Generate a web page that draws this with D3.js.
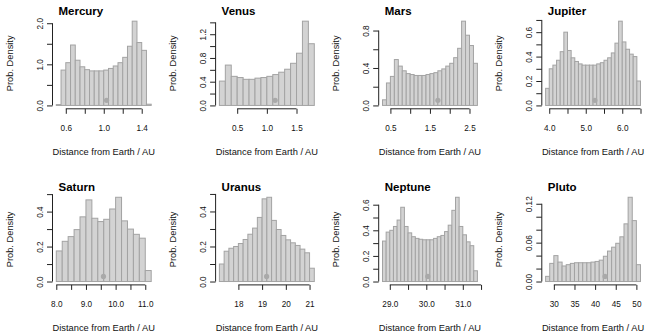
<!DOCTYPE html>
<html>
<head>
<meta charset="utf-8">
<script src="https://cdn.jsdelivr.net/npm/d3@7"></script>
<style>
  html, body { margin: 0; padding: 0; background: #fff; }
  svg { display: block; font-family: "Liberation Sans", Arial, Helvetica, sans-serif; }
</style>
</head>
<body>
<script>
// ---------- data ----------
const planets = ["Mercury", "Venus", "Mars", "Jupiter", "Saturn", "Uranus", "Neptune", "Pluto"];
const binStart = [0.5, 0.2, 0.3, 3.9, 8.0, 17.2, 28.8, 28];
const binWidth = [0.05, 0.1, 0.1, 0.1, 0.2, 0.2, 0.1, 1];

const mercuryDensity = [0.02, 0.86, 1.04, 1.47, 1.10, 0.94, 0.87, 0.84, 0.84, 0.84, 0.86, 0.90, 0.96, 1.04, 1.17, 1.44, 2.05, 1.53, 1.34, 0.03];
const venusDensity   = [0.41, 0.68, 0.49, 0.47, 0.44, 0.44, 0.46, 0.47, 0.49, 0.52, 0.56, 0.61, 0.71, 0.88, 1.42, 1.04];
const marsDensity    = [0.06, 0.24, 0.31, 0.49, 0.42, 0.37, 0.34, 0.33, 0.32, 0.32, 0.32, 0.33, 0.34, 0.35, 0.37, 0.39, 0.42, 0.45, 0.51, 0.61, 0.90, 0.75, 0.64, 0.45];
const jupiterDensity = [0.14, 0.30, 0.33, 0.37, 0.44, 0.60, 0.45, 0.39, 0.36, 0.34, 0.33, 0.33, 0.33, 0.33, 0.34, 0.35, 0.37, 0.39, 0.43, 0.51, 0.69, 0.52, 0.46, 0.42, 0.40, 0.20];
const saturnDensity  = [0.175, 0.23, 0.257, 0.297, 0.37, 0.467, 0.362, 0.343, 0.356, 0.415, 0.482, 0.347, 0.30, 0.27, 0.248, 0.063];
const uranusDensity  = [0.10, 0.173, 0.19, 0.20, 0.217, 0.24, 0.27, 0.305, 0.366, 0.472, 0.481, 0.349, 0.297, 0.263, 0.238, 0.221, 0.206, 0.185, 0.164, 0.076];
const neptuneDensity = [0.316, 0.386, 0.40, 0.43, 0.48, 0.58, 0.43, 0.38, 0.35, 0.337, 0.33, 0.326, 0.326, 0.326, 0.337, 0.35, 0.36, 0.39, 0.44, 0.556, 0.658, 0.43, 0.365, 0.31, 0.28, 0.084];
const plutoDensity   = [0.008, 0.028, 0.040, 0.030, 0.024, 0.026, 0.028, 0.029, 0.029, 0.029, 0.029, 0.030, 0.031, 0.033, 0.039, 0.047, 0.053, 0.059, 0.069, 0.089, 0.130, 0.094, 0.026];
const densities = [mercuryDensity, venusDensity, marsDensity, jupiterDensity, saturnDensity, uranusDensity, neptuneDensity, plutoDensity];

const meanDistance = [1.03, 1.14, 1.70, 5.25, 9.59, 19.19, 30.04, 42.4];

const xTickValues = [
  [0.6, 0.8, 1.0, 1.2, 1.4],
  [0.5, 1.0, 1.5],
  [0.5, 1.0, 1.5, 2.0, 2.5],
  [4.0, 4.5, 5.0, 5.5, 6.0, 6.5],
  [8.0, 8.5, 9.0, 9.5, 10.0, 10.5, 11.0],
  [18, 19, 20, 21],
  [29.0, 29.5, 30.0, 30.5, 31.0, 31.5],
  [30, 35, 40, 45, 50]
];
const xTickLabels = [
  ["0.6", "", "1.0", "", "1.4"],
  ["0.5", "1.0", "1.5"],
  ["0.5", "", "1.5", "", "2.5"],
  ["4.0", "", "5.0", "", "6.0", ""],
  ["8.0", "", "9.0", "", "10.0", "", "11.0"],
  ["18", "19", "20", "21"],
  ["29.0", "", "30.0", "", "31.0", ""],
  ["30", "35", "40", "45", "50"]
];
const yTickValues = [
  [0, 0.5, 1.0, 1.5, 2.0],
  [0, 0.2, 0.4, 0.6, 0.8, 1.0, 1.2, 1.4],
  [0, 0.2, 0.4, 0.6, 0.8],
  [0, 0.1, 0.2, 0.3, 0.4, 0.5, 0.6, 0.7],
  [0, 0.1, 0.2, 0.3, 0.4, 0.5],
  [0, 0.1, 0.2, 0.3, 0.4, 0.5],
  [0, 0.1, 0.2, 0.3, 0.4, 0.5, 0.6],
  [0, 0.02, 0.04, 0.06, 0.08, 0.10, 0.12]
];
const yTickLabels = [
  ["0.0", "", "1.0", "", "2.0"],
  ["0.0", "", "0.4", "", "0.8", "", "1.2", ""],
  ["0.0", "", "0.4", "", "0.8"],
  ["0.0", "", "0.2", "", "0.4", "", "0.6", ""],
  ["0.0", "", "0.2", "", "0.4", ""],
  ["0.0", "", "0.2", "", "0.4", ""],
  ["0.0", "", "0.2", "", "0.4", "", "0.6"],
  ["0.00", "", "", "0.06", "", "", "0.12"]
];
const xAxisTitle = "Distance from Earth / AU";
const yAxisTitle = "Prob. Density";

// ---------- layout / style ----------
const WIDTH = 645, HEIGHT = 335;
const COL_X0 = 52.5, COL_STEP = 163.1, PLOT_W = 102.5;
const ROW_Y0 = 17.8, ROW_STEP = 176.1, PLOT_H = 91;
const BAR_FILL = "#d3d3d3", BAR_STROKE = "#a3a3a3", POINT_FILL = "#a9a9a9", AXIS_COL = "#222";

const svg = d3.select("body").append("svg").attr("width", WIDTH).attr("height", HEIGHT);

planets.forEach((name, i) => {
  const col = i % 4, row = Math.floor(i / 4);
  const L = COL_X0 + col * COL_STEP, T = ROW_Y0 + row * ROW_STEP;
  const B = T + PLOT_H, R = L + PLOT_W;
  const dens = densities[i];
  const bins = dens.map((d, j) => ({ x0: binStart[i] + j * binWidth[i], x1: binStart[i] + (j + 1) * binWidth[i], d }));
  const xMin = bins[0].x0, xMax = bins[bins.length - 1].x1, xr = xMax - xMin;
  const yMax = d3.max(dens);
  const x = d3.scaleLinear().domain([xMin - 0.04 * xr, xMax + 0.04 * xr]).range([L, R]);
  const y = d3.scaleLinear().domain([-0.04 * yMax, 1.04 * yMax]).range([B, T]);

  const g = svg.append("g");

  g.selectAll("rect").data(bins).join("rect")
    .attr("x", b => x(b.x0))
    .attr("width", b => x(b.x1) - x(b.x0))
    .attr("y", b => y(b.d))
    .attr("height", b => y(0) - y(b.d))
    .attr("fill", BAR_FILL)
    .attr("stroke", BAR_STROKE)
    .attr("stroke-width", 1);

  g.append("circle")
    .attr("cx", x(meanDistance[i]))
    .attr("cy", y(0.06 * yMax))
    .attr("r", 2.6)
    .attr("fill", POINT_FILL);

  // x axis
  const xt = xTickValues[i];
  const gx = g.append("g").attr("transform", `translate(0,${B})`)
    .call(d3.axisBottom(x).tickValues(xt).tickSize(5).tickFormat((d, j) => xTickLabels[i][j]));
  gx.select(".domain").attr("d", `M${x(xt[0])},0H${x(xt[xt.length - 1])}`).attr("stroke", AXIS_COL);
  gx.selectAll(".tick line").attr("stroke", AXIS_COL);
  gx.selectAll(".tick text").attr("y", 22).attr("dy", null)
    .attr("font-size", 8.2).attr("font-family", null).attr("fill", "#111");

  // y axis
  const yt = yTickValues[i];
  const gy = g.append("g").attr("transform", `translate(${L},0)`)
    .call(d3.axisLeft(y).tickValues(yt).tickSize(5.5).tickFormat((d, j) => yTickLabels[i][j]));
  gy.select(".domain").attr("d", `M0,${y(yt[0])}V${y(yt[yt.length - 1])}`).attr("stroke", AXIS_COL);
  gy.selectAll(".tick line").attr("stroke", AXIS_COL);
  gy.selectAll(".tick text").attr("x", null).attr("dy", null)
    .attr("transform", "translate(-10,0) rotate(-90)")
    .attr("text-anchor", "middle")
    .attr("font-size", 8.2).attr("font-family", null).attr("fill", "#111");

  // titles
  g.append("text").attr("x", L + 6).attr("y", T - 2.5)
    .attr("font-size", 11.5).attr("font-weight", "bold").attr("fill", "#000")
    .text(name);
  g.append("text").attr("x", (L + R) / 2).attr("y", B + 46)
    .attr("text-anchor", "middle").attr("font-size", 9.3).attr("fill", "#111")
    .text(xAxisTitle);
  g.append("text").attr("transform", `translate(${L - 39.5},${(T + B) / 2}) rotate(-90)`)
    .attr("text-anchor", "middle").attr("font-size", 9.3).attr("fill", "#111")
    .text(yAxisTitle);
});
</script>
</body>
</html>
